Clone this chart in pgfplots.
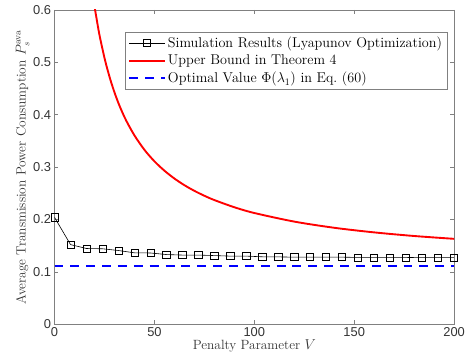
\documentclass[border=0pt]{standalone}
\usepackage{fontspec}
\setsansfont{Liberation Sans}
\usepackage{pgfplots}
\pgfplotsset{compat=1.18}
\pgfplotsset{mylegimg/.style={legend image code/.code={\draw[mark repeat=2,mark phase=2,##1] plot coordinates {(0pt,0pt) (18pt,0pt) (36pt,0pt)};}}}
\begin{document}
\begin{tikzpicture}
\begin{axis}[
  scale only axis,
  width=403pt, height=317pt,
  xmin=0, xmax=200, ymin=0, ymax=0.6,
  xtick={0,50,100,150,200},
  ytick={0,0.1,0.2,0.3,0.4,0.5,0.6},
  yticklabel style={/pgf/number format/fixed,/pgf/number format/precision=1},
  tick label style={font=\sffamily\fontsize{13}{15}\selectfont, text=black!80},
  /pgf/number format/assume math mode=true,
  axis line style={black!50, line width=0.5pt},
  tick style={black!50, line width=0.5pt},
  tick align=inside,
  major tick length=4pt,
  xlabel={Penalty Parameter $V$},
  ylabel={Average Transmission Power Consumption $P_s^{\mathrm{ava}}$},
  label style={font=\fontsize{13.5}{15}\selectfont, text=black!80},
  xlabel style={yshift=3.5pt},
  ylabel style={yshift=-3pt},
  legend style={at={(0.9826,0.9306)}, anchor=north east, draw=black!50,
     font=\fontsize{14.3}{17}\selectfont, row sep=2pt, inner sep=3pt},
  mylegimg,
  legend cell align=left,
  clip=true,
]
\addplot[black, line width=0.6pt, mark=square, mark size=3.6pt, mark options={solid, line width=0.7pt}] coordinates {
(0,0.204) (8,0.152) (16,0.1445) (24,0.144) (32,0.1407) (40,0.1363) (48,0.136) (56,0.133) (64,0.132) (72,0.132) (80,0.131) (88,0.130) (96,0.130) (104,0.1287) (112,0.1285) (120,0.128) (128,0.128) (136,0.128) (144,0.128) (152,0.1275) (160,0.1275) (168,0.1275) (176,0.1275) (184,0.127) (192,0.127) (200,0.127)
};
\addlegendentry{Simulation Results (Lyapunov Optimization)}
\addplot[red, line width=1.9pt, smooth] coordinates {
(16,0.7305) (17,0.6942) (18,0.6619) (19,0.6331) (20,0.6071) (22,0.5622) (23,0.5427) (25,0.5084) (26,0.4932) (28,0.4661) (30,0.4426) (32,0.4220) (34,0.4039) (36,0.3878) (40,0.3604) (45,0.3329) (50,0.3110) (55,0.2931) (60,0.2781) (65,0.2654) (70,0.2546) (75,0.2452) (80,0.2370) (90,0.2233) (100,0.2123) (120,0.1959) (140,0.1841) (160,0.1753) (180,0.1684) (200,0.1630)
};
\addlegendentry{Upper Bound in Theorem 4}
\addplot[blue, line width=1.9pt, dash pattern=on 9pt off 7pt] coordinates {(0,0.111) (200,0.111)};
\addlegendentry{Optimal Value $\Phi(\lambda_1)$ in Eq.~(60)}
\end{axis}
\pgfresetboundingbox
\path ([xshift=-55pt,yshift=-33pt]current axis.south west) rectangle ([xshift=12pt,yshift=10pt]current axis.north east);
\end{tikzpicture}
\end{document}
